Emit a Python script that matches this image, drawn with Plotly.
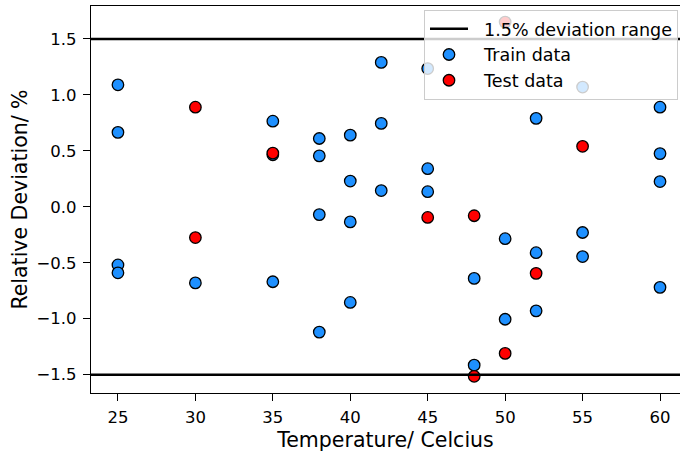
import plotly.graph_objects as go

# Train data (blue)
train_temp = [25, 25, 25, 25, 30, 35, 35, 35, 38, 38, 38, 38, 40, 40, 40, 40,
              42, 42, 42, 45, 45, 45, 48, 48, 50, 50, 52, 52, 52, 55, 55, 55,
              60, 60, 60, 60]
train_dev = [1.09, 0.665, -0.52, -0.59, -0.68, 0.765, 0.465, -0.67, 0.61, 0.455, -0.07, -1.12,
             0.64, 0.23, -0.135, -0.855, 1.29, 0.745, 0.145, 1.235, 0.34, 0.135,
             -0.64, -1.415, -0.285, -1.005, 0.79, -0.41, -0.93, 1.07, -0.23, -0.445,
             0.89, 0.475, 0.225, -0.72]

# Test data (red)
test_temp = [30, 30, 35, 45, 48, 48, 50, 50, 52, 55]
test_dev = [0.89, -0.275, 0.48, -0.095, -0.08, -1.515, 1.65, -1.31, -0.595, 0.54]

dev_limits = [1.5, -1.5]
x_ticks = [25, 30, 35, 40, 45, 50, 55, 60]
y_ticks = [-1.5, -1.0, -0.5, 0.0, 0.5, 1.0, 1.5]

FONT = "DejaVu Sans"
PAD = "\u00a0\u00a0"

fig = go.Figure()

fig.add_trace(go.Scatter(x=[None], y=[None], mode="lines", name=PAD + "1.5% deviation range",
                         line=dict(color="black", width=2.5)))
fig.add_trace(go.Scatter(x=train_temp, y=train_dev, mode="markers", name=PAD + "Train data",
                         marker=dict(color="#1E90FF", size=11.5, line=dict(color="black", width=1.3))))
fig.add_trace(go.Scatter(x=test_temp, y=test_dev, mode="markers", name=PAD + "Test data",
                         marker=dict(color="#FF0000", size=11.5, line=dict(color="black", width=1.3))))

for v in dev_limits:
    fig.add_shape(type="line", xref="x domain", yref="y", x0=0, x1=1, y0=v, y1=v,
                  line=dict(color="black", width=2.5), layer="above")

fig.update_layout(
    width=680, height=452,
    margin=dict(l=91, r=0, t=6, b=59),
    paper_bgcolor="white", plot_bgcolor="white",
    font=dict(family=FONT, color="black"),
    showlegend=True,
    legend=dict(x=0.9966, xanchor="right", y=0.99, yanchor="top",
                bgcolor="rgba(255,255,255,0.8)", bordercolor="#cccccc", borderwidth=1,
                font=dict(family=FONT, size=17.5, color="black"), itemwidth=38,
                tracegroupgap=0),
)

fig.update_xaxes(range=[23.26, 61.29], tickvals=x_ticks, ticks="outside", ticklen=7, tickwidth=1.3,
                 tickcolor="black", showline=True, linecolor="black", linewidth=1.3, mirror=True,
                 showgrid=False, zeroline=False, tickfont=dict(size=16.5, family=FONT),
                 ticklabelstandoff=2,
                 title=dict(text="Temperature/ Celcius", font=dict(size=20.5, family=FONT), standoff=6))
fig.update_yaxes(range=[-1.664, 1.794], tickvals=y_ticks, tickformat=".1f", ticks="outside", ticklen=7,
                 tickwidth=1.3, tickcolor="black", showline=True, linecolor="black", linewidth=1.3,
                 mirror=False, showgrid=False, zeroline=False, tickfont=dict(size=16.5, family=FONT),
                 ticklabelstandoff=3,
                 title=dict(text="Relative Deviation/ %", font=dict(size=20.5, family=FONT), standoff=3))

fig.write_html("out.html")
